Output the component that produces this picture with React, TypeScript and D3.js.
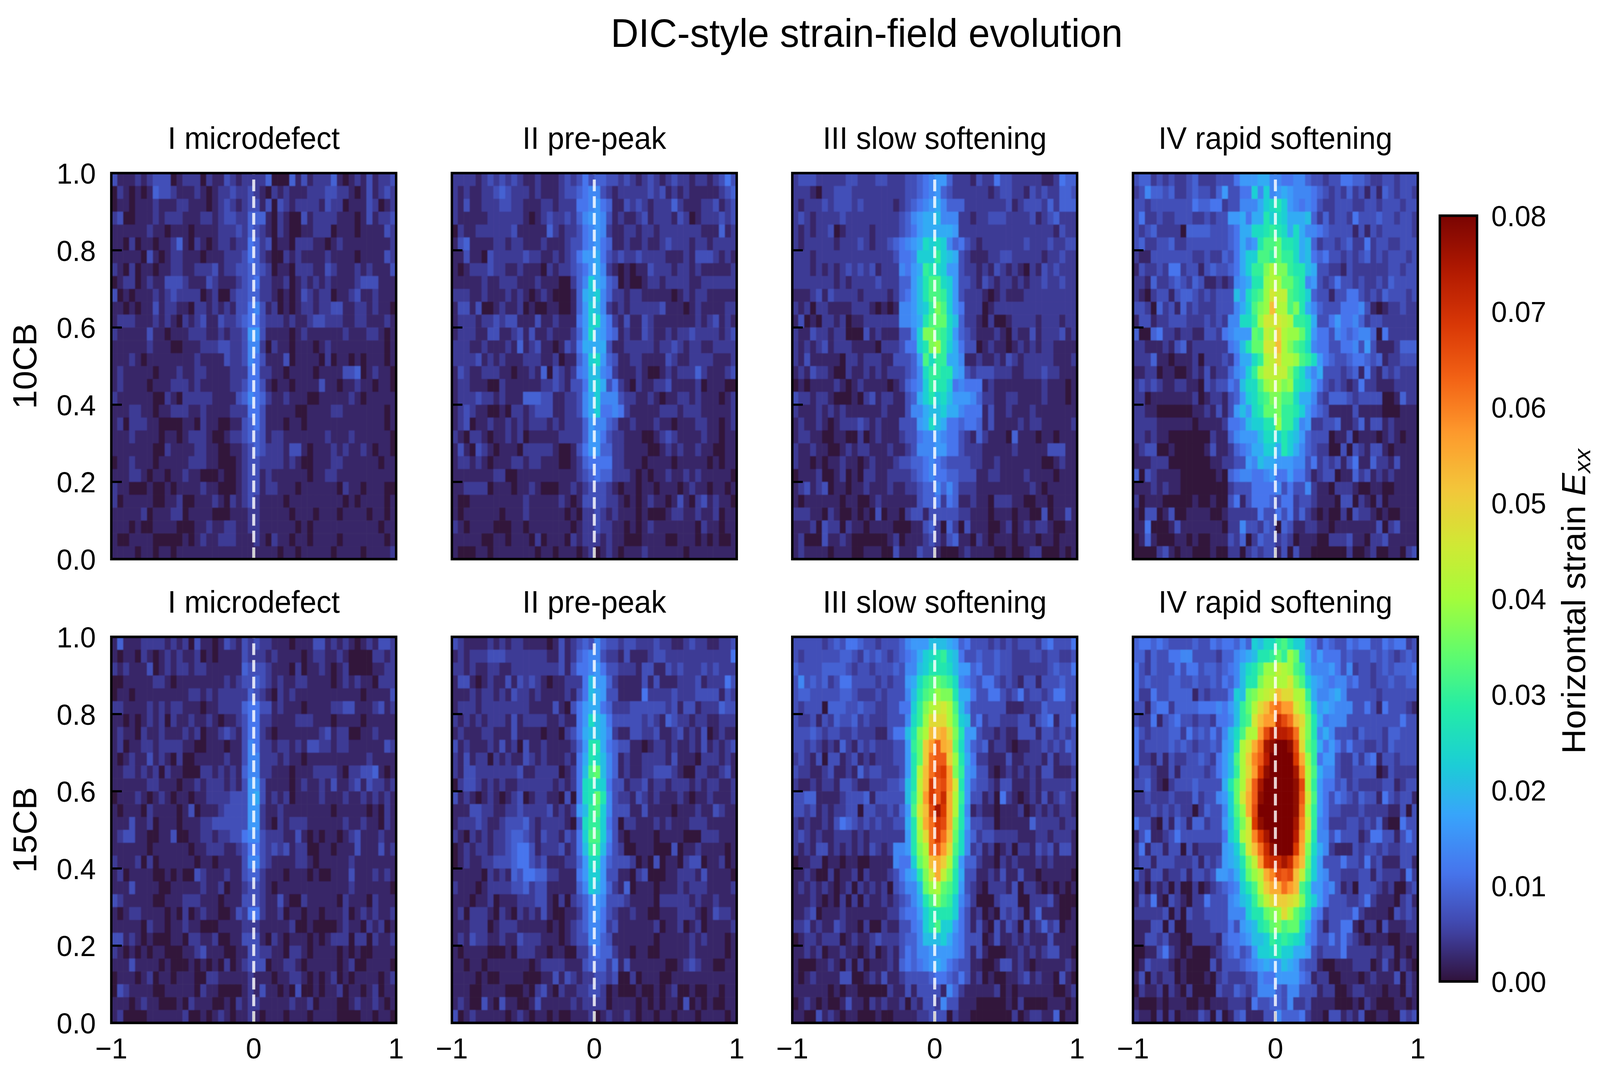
import * as React from 'react'
import * as d3 from 'd3'

// Each character is one cell, base 36: 0 = 0.00 strain, z = 0.08 strain.
// Rows run top (y = 1) to bottom (y = 0), 48 cells each, spaced every 12 for reading.
const field10CB_I = [
  '311121233301 222021132122 224000413122 241012131223',
  '021010143321 112101223223 210212111222 332210131232',
  '011011121112 211101232123 313032122221 322011132012',
  '230011121222 111221233224 441021003122 221110131223',
  '111111211011 101111222324 321021001122 201110111132',
  '110201101124 102101221225 423011022211 012111111112',
  '111110310122 111011122235 421002121111 211110111132',
  '210201101122 112223122334 432011022211 321112121113',
  '012201211333 211132111234 522112012121 211112333111',
  '301011121232 222012002334 422101013212 201123112111',
  '110101131221 102212121335 631201012212 233112212110',
  '122211121210 212311322345 532221211233 222112211121',
  '211111311011 122211212237 731111012111 111211122101',
  '111111211100 111222332236 620211011101 211111111101',
  '111210111111 112111132236 531113011110 201101011101',
  '121111101112 112211112225 522110111101 111334012110',
  '121111011122 212111112235 531011011113 110112110110',
  '211111100210 222221111346 542112111001 111121011111',
  '111221101122 211211112225 531111100111 122111111101',
  '120222110000 110211001134 531110110111 111111111101',
  '111211110110 122210012234 431221111111 211121111110',
  '111111100211 112211001123 432221331011 121211210110',
  '011211101111 122211000123 322221210011 122111111011',
  '111221011011 211000100123 312111111011 221111111111',
  '211000100101 111211000123 312211101111 110211011100',
  '201111100112 001112102123 211110111111 111010111101',
  '111112011122 011110001112 211111011101 110111101101',
  '111010011110 001121122112 211111101011 111111111011',
  '100111100000 101211222111 210211011011 110111111101',
  '111101101101 111111111111 111101101111 101111011112',
]

const field10CB_II = [
  '222212323232 112111232353 443323212321 232212212353',
  '212112234322 212111233456 632122222323 121211111234',
  '213112223322 111221222556 754113232122 242111223123',
  '211111222222 101232232467 763121123122 213201222323',
  '021122222231 111142122356 762112212212 222222111412',
  '134111122122 111211123356 754112112112 322212212222',
  '113110322222 322112123577 853232232222 111213332121',
  '101222322112 111021223457 862101011322 212212111112',
  '111112112221 112111002 46a 874301001221 222211222222',
  '222112111212 101210001489 a64221221111 101212211111',
  '133130012112 010011001 47a 962121222223 111012111122',
  '122212232331 113112111 57a b75213113211 111112123121',
  '122211331123 131121112 47b 875412113211 212232222123',
  '222112111214 123110132 588 883112222212 232122112222',
  '222231212111 222112011 46a b74311221111 321122221112',
  '132112221101 121403212 569 965211121001 212224211123',
  '122111002111 111223213 359 a83521021122 311112011100',
  '122232212111 444331122 368 a66632211210 112212111012',
  '123211001022 123331122 368 a55652111112 221222111112',
  '123011211212 122212122 247 664311211121 101112211012',
  '210221011212 011111222 247 753221110012 321111211011',
  '131032101110 222221001 357 744221111001 212112110011',
  '122121011122 122111001 245 555221110111 101111101011',
  '111111122001 111111111 234 544222101011 211212111110',
  '112222011101 121000112 123 332101101101 110121101101',
  '100111111111 211111210 133 332210101211 013102312110',
  '101111110111 211111101 022 321211101000 122112112011',
  '210111100011 011111110 122 322110101211 111110211011',
  '111110011011 102011102 122 212110001111 001110101001',
  '100011011111 110110111 012 012101112111 111011111111',
]

const field10CB_III = [
  '233322222332 2233222 33456 774222132253 322222112544',
  '222102233322 2222222 33456 743222222123 322132322443',
  '212223233323 2222212 34567 864442222222 312333242444',
  '232122223222 2222223 46788 966622122333 222231234222',
  '212122301222 2122223 45788 888722222222 222222221322',
  '212222212223 2122345 678ba ba6453212222 222322232233',
  '222122222222 2222235 56aaa da9832111223 322222122322',
  '222121212323 2312226 578dc ba7732212132 121021323222',
  '222222212122 2232224 479ce eba733213212 212122322322',
  '111231322221 2222124 579ce eda732221012 111222222222',
  '212022111122 2101016 679ad gea752220122 222222222222',
  '130102212011 2222226 678ce ffb942210200 122221222122',
  '211322122000 3121113 36agg edb743211121 021131222312',
  '212123122211 1102223 55acg hda853301211 012121221111',
  '213111110221 2221133 347eb dd8861121121 321222221112',
  '121322100211 2121222 346bd dcc873233322 211222322111',
  '010111121012 1111012 456ad cca565551211 111111211101',
  '322122100010 2312211 348ac ab9777642211 221111211101',
  '211121212111 1112111 36689 9a8865551311 211121111111',
  '121121012223 2121113 3378b 985545541311 112122111112',
  '122110011002 0121112 33566 765532142111 041110110111',
  '211211001212 2111211 23666 775532221111 121111133311',
  '211010112110 1211123 34456 543333221121 111111001211',
  '011120012010 2211222 23456 554433311221 111211110111',
  '123123011011 2111211 22344 646422211111 111121011111',
  '101111110110 0121111 11344 525411211022 211001101111',
  '222110210010 1030110 23313 333322111011 101100301131',
  '111203220211 0111100 01134 204203111001 201212210011',
  '120003112100 0000120 11123 213411021011 101110110111',
  '121111011100 1110031 11322 100012111100 100122000101',
]

const field10CB_IV = [
  '344232322342 2233 35777886 655664332335 544322332333',
  '236443422343 3247 3355a6a6 787666543232 423131432332',
  '332333333354 4552 336668ab ca7656532233 322332333233',
  '352232233322 3233 778588ca ba8889424233 253334332332',
  '323422220444 4333 4588bbcd cb8b86654333 313132333332',
  '342233422333 3333 45867cee fccb89423323 422523322333',
  '211333333322 3224 358aaeed fddb89545332 323423233323',
  '132232552331 3433 458addgi ggdcc9833221 322222233233',
  '221422343243 1121 2678cchi iffdc6732353 323223243333',
  '210233134432 3233 397bdehk jjedca433133 553232433323',
  '332042314232 2233 368aeghn iiegc8643335 556310122322',
  '133122333222 3232 66bbdhkk kjiddc833575 564233222222',
  '400452212211 3325 6777feji mihhfc755365 456640522222',
  '221112134122 2222 569cffkk nigedb655335 563731112444',
  '222411011120 2223 2588bdij liihedb75433 455434122333',
  '112201100121 3122 467adhjj jjgdb8683332 341521323222',
  '232321122110 3233 549bbehi ighcba753232 125221112222',
  '220111111120 1221 347abdeg geeb88632444 323333001422',
  '221100000011 2131 3797bcff gddca7543111 131111000111',
  '222211111101 1112 5569aacc hdda67223341 124133121111',
  '221211000000 0211 467779bb aca974333011 301110121011',
  '123300100000 1311 245688aa 8ca864322003 032133101111',
  '111222000000 0112 23376988 777663523231 351142213111',
  '403211110000 0010 45665567 557553123301 142312121111',
  '111212110000 0000 23335555 635336211022 210011001111',
  '201110000010 0100 35135554 355233211103 302102011111',
  '103301300111 1001 22222533 535242101002 032210100111',
  '115000131111 1110 22633243 043112211011 111113023111',
  '014100011010 0111 32402433 232011100222 311022311111',
  '000023101100 0100 22023233 130311000000 200120011023',
]

const field15CB_I = [
  '141112222121 203110132132 322111011133 121210121332',
  '101102101212 112010111132 221211110122 112100002212',
  '212111301212 212211111143 332111020112 101200001122',
  '001111122101 111111121233 432121122111 101212110222',
  '011011111111 122121222224 321021211111 111111011113',
  '221111212122 111011222245 533121110111 122331112312',
  '110101212021 121121011235 522111122211 101111011111',
  '121102112111 212011232135 521011111112 312200112111',
  '120112212222 110011101136 522122121332 212211111132',
  '101211312102 001111121136 622212110111 111111121111',
  '112212120211 000221212146 622111011122 221022334101',
  '111111221110 112122212137 731111012112 131123132212',
  '011121012101 101122223337 831212011112 111211212121',
  '101110211110 130111233337 721121111111 101111101021',
  '111311201110 111223333337 721021222111 111211211021',
  '123311001130 011221223356 632221131010 110123111211',
  '111111011111 101122211235 532323122001 101113111312',
  '211120201111 110110111136 632111122101 111121111111',
  '120111100101 003211121134 421110111010 011131112121',
  '111311110011 111211201123 321011111111 111121111110',
  '321111100111 222111011133 321131002111 110211102111',
  '101221111010 201211001325 521120110110 111201212112',
  '111110211011 211000111122 211111200100 001211021201',
  '331210100011 022112001133 310210111010 122202202112',
  '210101011000 112311100113 322110221011 110101001111',
  '111311110100 010101020123 330112210111 110120011110',
  '011101201101 110022111112 111011221010 120101111012',
  '032111100111 110211000012 131101030010 112011012011',
  '111012110001 021110010212 211111211201 110012112101',
  '120000111111 200101210112 101110111011 110000110110',
]

const field15CB_II = [
  '321111212122 111101312343 643323322232 211232211223',
  '121222333222 222211312456 632213111233 222222222225',
  '221211221122 222222313556 753322213311 323222323222',
  '133101211313 232101122259 774211113131 112223122253',
  '111212212132 212111121359 873311115222 232223333132',
  '122212222222 211113103578 854222333333 231331222433',
  '212121222131 22221121157b 985333332321 432212211222',
  '121112211131 111011023589 986211332231 123121301211',
  '312111213120 31121111247c c85433110122 121121312123',
  '213122021211 32121112158c b96412112222 131110222121',
  '213322222223 11222201259e f96412112233 321002211231',
  '023321212112 2222212125bc ba5331223122 122212122112',
  '312101210123 0122110305bc fc6322132121 112101121112',
  '111332211223 22223121279d ea6333113111 101112113211',
  '122232112333 4212222104bd da5302211121 211122211111',
  '210212122344 3213221325ae ea6310111101 111000222111',
  '012122122345 53122231259d d95320011100 030112111101',
  '012112233345 53231112247b b74333201030 110233011201',
  '111110212143 55442211157a a73311023000 112221311110',
  '211101222233 42331111146a 974214011101 112122211112',
  '111011201112 223310202346 763332111102 222212112111',
  '120222102102 121310011246 753211211001 112221013221',
  '111222012221 111101012346 652311111120 112012011112',
  '121322112113 222111012336 643111111101 111121211101',
  '101111000102 221101100224 544211011001 111121111101',
  '110110111111 101222211134 442413111111 001232110011',
  '111101001111 000113132122 332300201110 011111111111',
  '111001111000 102310211223 320100010010 120010011011',
  '121003103110 013111112122 220111101010 110301010011',
  '301211111012 101101001112 012112101101 101110111101',
]

const field15CB_III = [
  '333332343554 332333467779 998745333232 323332453335',
  '323333334432 4343234568ab cda953343343 322233233223',
  '433334444323 3233343669ac ccb977453343 322222234335',
  '363434235533 332323378bde fedb65435532 321331333433',
  '344333334432 223233369cef hggc88533553 235233235533',
  '323330444334 33223355adgi jkie96333333 111222433332',
  '322313243342 32223336bdhl llifa9352332 223313451335',
  '333432332232 22113559cgin nolgc7732212 113331332323',
  '332321214213 23222337dfmp sonfb7434122 101122323243',
  '232130331231 21222337cfmr ssmhc8522111 311222131223',
  '322112311214 23322237cinr tupgd7633101 212121331112',
  '211212213321 12223349cjnu stpkc7433213 311121222223',
  '334411112333 41333339dipu svoid7331205 210121312321',
  '332312122330 33223247eknt xuoic6121101 112012121221',
  '212112135432 32322338cior utogc7332201 111142222122',
  '232121122212 12222227chlr urnfb6423322 221112212221',
  '212133121212 13212667cgir spleb6231201 202213231331',
  '011220110110 01111655afhn omid74421102 121112121111',
  '112100201120 211123578cgk ojgc83311213 113110111110',
  '121212101202 1212034669fh ifec73210222 130221010101',
  '111210102020 2112123468ce geda64200023 330022231000',
  '112301112111 1111224557ac ccca53120103 232024111001',
  '223121132110 2002113356ac eaa753131031 320312423011',
  '012212220121 123222344699 9a8653330131 121211131111',
  '112120112110 120121354667 777653131000 112121233110',
  '100011210202 011121454567 875433110013 312101111121',
  '101211113300 121311233334 554353120100 112312110310',
  '111111010110 000021131333 316421111120 101111110012',
  '012101001311 021211202133 263311100000 102000011101',
  '110031210110 001001111223 330211000000 020122114011',
]

const field15CB_IV = [
  '455454333343 35455464a9bb decaa6535433 545533545523',
  '442433556633 332446789ccd fdhf98575553 433343432343',
  '532433353553 4434569bcehh jihed8666753 623323434445',
  '534333443343 3435469ccgii iikgea876566 453323343344',
  '522533444413 23335a9fgijk nlliid866786 333332333333',
  '331455244445 556579dfilnq rppkifa78766 633531533321',
  '322513453323 325569deknpp vtrnlgc85666 333333333533',
  '532333442534 35369beiiptw wwvrkgc68633 324333244333',
  '523333434323 34378cikorxy zzytlfd85753 533223243333',
  '522131322334 32579eimqswz zzzuohd57732 242451332333',
  '233211313333 23579dilpuyz zzzxqie86632 233330132222',
  '334210233343 3338cfinsxzz zzzytid75534 232222331233',
  '223222322242 3367afkosyzz zzzyske75354 324331532331',
  '222323232202 4336aehotzzz zzzyrid75332 223222211303',
  '533103143144 23379dgkuyzz zzzxqkd65222 332324100533',
  '135112353333 3335acikquxz zzzwpic66353 331255331353',
  '251331330312 22278aeknrvy zzzuogb86211 132332322333',
  '233133322231 323789cgjpuv vxvqnfa73335 332523111331',
  '421331223133 237768bfhjoq tstnjea76332 223313222152',
  '120212020020 123456aceimo orpnec775631 203332120023',
  '132510321022 5333679adgjl mmlkgca75333 223521110231',
  '222223020322 3333666accfg hlifdb652333 352111103232',
  '111330300222 233353789cdf geffb8531335 510220311122',
  '113323110022 2214556799ad cdcba6533535 321011100111',
  '001135210100 012345347aab caa887323335 222221220101',
  '013222101000 031333456787 798743310011 122201310210',
  '130212201000 102322233655 777754122001 110121113021',
  '021120210200 003224323666 436633312200 122111011021',
  '100010111001 011122215334 436223111100 010210001101',
  '211020201113 203013411133 644452110331 213001100323',
]

const rowLabels = ['10CB', '15CB']
const stageLabels = ['I microdefect', 'II pre-peak', 'III slow softening', 'IV rapid softening']
const fields = [
  [field10CB_I, field10CB_II, field10CB_III, field10CB_IV],
  [field15CB_I, field15CB_II, field15CB_III, field15CB_IV],
]
const xTicks = [-1, 0, 1]
const yTicks = [0, 0.2, 0.4, 0.6, 0.8, 1]
const colorbarTicks = [0, 0.01, 0.02, 0.03, 0.04, 0.05, 0.06, 0.07, 0.08]
const turboStops = [
  '#30123b', '#4145ab', '#4675ed', '#39a2fc', '#1bcfd4', '#24eca6', '#61fc6c', '#a4fc3b',
  '#d1e834', '#f3c63a', '#fe9b2d', '#f36315', '#d93806', '#b11901', '#7a0402',
]

const FONT = '"Liberation Sans", Arial, sans-serif'
const MAX_STRAIN = 0.08
const NX = 48
const NY = 30
const PANEL_W = 757.5
const PANEL_H = 988
const PANEL_X = [296, 1201.7, 2107, 3013]
const PANEL_Y = [443, 1630]

const turbo = d3
  .scaleLinear<string>()
  .domain(turboStops.map((_, i) => (i / (turboStops.length - 1)) * MAX_STRAIN))
  .range(turboStops)
  .interpolate(d3.interpolateRgb)
  .clamp(true)

// 36 levels between 0 and the top of the colour scale
function decodeRow(row: string): number[] {
  return Array.from(row.replace(/[^0-9a-z]/g, '').padEnd(NX, '1').slice(0, NX)).map(
    c => (parseInt(c, 36) / 35) * MAX_STRAIN,
  )
}

function Panel({ rows, title, px, py, showY }: { rows: string[]; title: string; px: number; py: number; showY: boolean }) {
  const x = d3.scaleLinear().domain([-1, 1]).range([0, PANEL_W])
  const y = d3.scaleLinear().domain([0, 1]).range([PANEL_H, 0])
  const dx = 2 / NX
  const dy = 1 / NY
  return (
    <g transform={`translate(${px},${py})`}>
      <g filter="url(#soft)">
        {rows.map((row, r) =>
          decodeRow(row).map((v, c) => (
            <rect
              key={`${r}-${c}`}
              x={x(-1 + c * dx)}
              y={y(1 - r * dy)}
              width={x(dx) - x(0) + 0.6}
              height={y(0) - y(dy) + 0.6}
              fill={turbo(v)}
            />
          )),
        )}
      </g>
      {yTicks.map(t => (
        <g key={t}>
          <line x1={0} x2={28} y1={y(t)} y2={y(t)} stroke="#000" strokeWidth={5.4} />
          {showY && (
            <text x={-41} y={y(t) + 27} textAnchor="end" fontSize={75} fontFamily={FONT}>
              {t.toFixed(1)}
            </text>
          )}
        </g>
      ))}
      {xTicks.map(t => (
        <line key={t} x1={x(t)} x2={x(t)} y1={PANEL_H} y2={PANEL_H - 28} stroke="#000" strokeWidth={5.4} />
      ))}
      <line
        x1={x(0)}
        x2={x(0)}
        y1={y(0)}
        y2={y(1)}
        stroke="#fff"
        strokeOpacity={0.82}
        strokeWidth={8}
        strokeDasharray="30 12.8"
      />
      <rect x={0} y={0} width={PANEL_W} height={PANEL_H} fill="none" stroke="#000" strokeWidth={6.5} />
      <text x={PANEL_W / 2} y={-62} textAnchor="middle" fontSize={80} fontFamily={FONT}>
        {title}
      </text>
    </g>
  )
}

function Colorbar() {
  const left = 3829
  const top = 552
  const width = 99
  const height = 1960
  const scale = d3.scaleLinear().domain([0, MAX_STRAIN]).range([height, 0])
  const stops = d3.range(0, 65).map(i => i / 64)
  return (
    <g transform={`translate(${left},${top})`}>
      <defs>
        <linearGradient id="turboBar" x1="0" x2="0" y1="1" y2="0">
          {stops.map(s => (
            <stop key={s} offset={s} stopColor={turbo(s * MAX_STRAIN)} />
          ))}
        </linearGradient>
      </defs>
      <rect width={width} height={height} fill="url(#turboBar)" stroke="#000" strokeWidth={6.5} />
      {colorbarTicks.map(t => (
        <text key={t} x={137} y={scale(t) + 27} fontSize={75} fontFamily={FONT}>
          {t.toFixed(2)}
        </text>
      ))}
    </g>
  )
}

export default function App() {
  const xLabelScale = d3.scaleLinear().domain([-1, 1]).range([0, PANEL_W])
  // the browser window stops at 4096px wide, so the 4255-wide layout is fitted to it
  return (
    <svg
      viewBox="0 0 4255 2736"
      preserveAspectRatio="none"
      style={{ display: 'block', width: '100vw', height: '100vh', margin: '-8px 0 0 -8px', background: '#fff' }}
    >
      <defs>
        <filter id="soft" x="-1%" y="-1%" width="102%" height="102%">
          <feGaussianBlur stdDeviation="1.3" />
        </filter>
      </defs>
      <text x={2305} y={120} textAnchor="middle" fontSize={102.5} fontFamily={FONT}>
        DIC-style strain-field evolution
      </text>
      {fields.map((rowFields, ri) =>
        rowFields.map((rows, ci) => (
          <Panel
            key={`${ri}-${ci}`}
            rows={rows}
            title={stageLabels[ci]}
            px={PANEL_X[ci]}
            py={PANEL_Y[ri]}
            showY={ci === 0}
          />
        )),
      )}
      {PANEL_X.map((px, ci) =>
        xTicks.map(t => (
          <text
            key={`${ci}-${t}`}
            x={px + xLabelScale(t)}
            y={2709}
            textAnchor="middle"
            fontSize={75}
            fontFamily={FONT}
          >
            {t < 0 ? `\u2212${Math.abs(t)}` : t}
          </text>
        )),
      )}
      {rowLabels.map((label, ri) => (
        <text
          key={label}
          transform={`translate(97,${PANEL_Y[ri] + PANEL_H / 2}) rotate(-90)`}
          textAnchor="middle"
          fontSize={88}
          fontFamily={FONT}
        >
          {label}
        </text>
      ))}
      <Colorbar />
      <text transform="translate(4216,1539) rotate(-90)" textAnchor="middle" fontSize={88} fontFamily={FONT}>
        Horizontal strain <tspan fontStyle="italic">E</tspan>
        <tspan fontStyle="italic" fontSize={62} dy={13}>
          xx
        </tspan>
      </text>
    </svg>
  )
}
